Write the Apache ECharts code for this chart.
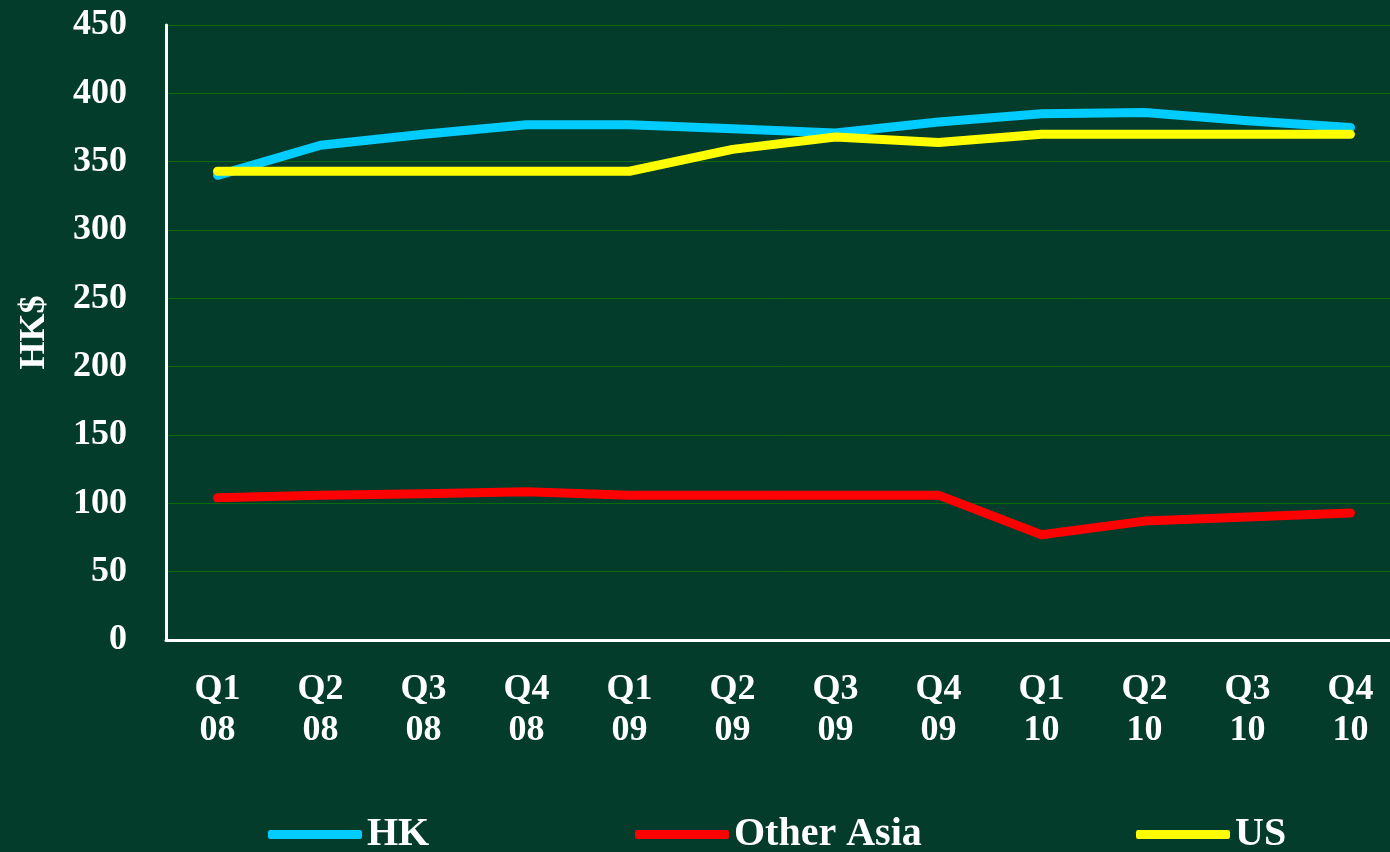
<!DOCTYPE html>
<html>
<head>
<meta charset="utf-8">
<style>
  html, body { margin: 0; padding: 0; background: #033c2a; }
  #chart { width: 1390px; height: 852px; }
</style>
<script src="https://cdn.jsdelivr.net/npm/echarts@6/dist/echarts.min.js"></script>
</head>
<body>
<div id="chart"></div>
<script>
// Quarterly values, 2008–2010, in HK$
const quarters = ['Q1', 'Q2', 'Q3', 'Q4', 'Q1', 'Q2', 'Q3', 'Q4', 'Q1', 'Q2', 'Q3', 'Q4'];
const years    = ['08', '08', '08', '08', '09', '09', '09', '09', '10', '10', '10', '10'];
const hk        = [340, 362, 370, 377, 377, 374, 371, 379, 385, 386, 380, 375];
const otherAsia = [104, 106, 107, 108.5, 106, 106, 106, 106, 77, 87, 90, 93];
const us        = [343, 343, 343, 343, 343, 359, 368, 364, 370, 370, 370, 370];
const yTicks = { min: 0, max: 450, interval: 50 };

const categories = quarters.map((q, i) => q + '\n' + years[i]);

const FONT = '"Liberation Serif", "Times New Roman", serif';
const WHITE = '#ffffff';

const seriesDefs = [
  { name: 'HK', data: hk, color: '#00ccff', legendLeft: 268 },
  { name: 'Other Asia', data: otherAsia, color: '#ff0000', legendLeft: 635 },
  { name: 'US', data: us, color: '#ffff00', legendLeft: 1136 }
];

const chart = echarts.init(document.getElementById('chart'), null, { renderer: 'canvas' });

chart.setOption({
  backgroundColor: '#033c2a',
  animation: false,
  // the last category band runs slightly past the right edge of the canvas
  grid: { left: 166, top: 25, width: 1236, height: 615, containLabel: false, outerBoundsMode: 'none' },
  legend: seriesDefs.map(s => ({
    data: [s.name],
    left: s.legendLeft,
    top: 811,
    icon: 'roundRect',
    itemWidth: 94,
    itemHeight: 9,
    itemGap: 0,
    textStyle: {
      color: WHITE, fontFamily: FONT, fontWeight: 'bold', fontSize: 40, lineHeight: 40,
      padding: [7, 0, 0, 0]
    },
    padding: 0,
    selectedMode: false
  })),
  xAxis: {
    type: 'category',
    data: categories,
    boundaryGap: true,
    axisLine: { show: true, lineStyle: { color: WHITE, width: 3 } },
    axisTick: { show: false },
    splitLine: { show: false },
    axisLabel: {
      color: WHITE, fontFamily: FONT, fontWeight: 'bold', fontSize: 36, lineHeight: 41,
      margin: 29, interval: 0
    }
  },
  yAxis: {
    type: 'value',
    min: yTicks.min, max: yTicks.max, interval: yTicks.interval,
    name: 'HK$',
    nameLocation: 'middle',
    nameGap: 113,
    nameRotate: 90,
    nameTextStyle: { color: WHITE, fontFamily: FONT, fontWeight: 'bold', fontSize: 36 },
    axisLine: { show: true, lineStyle: { color: WHITE, width: 3 } },
    axisTick: { show: false },
    axisLabel: { color: WHITE, fontFamily: FONT, fontWeight: 'bold', fontSize: 36, margin: 39 },
    splitLine: { show: true, lineStyle: { color: '#0b6b0b', width: 1 } }
  },
  series: seriesDefs.map(s => ({
    name: s.name,
    type: 'line',
    data: s.data,
    symbol: 'none',
    smooth: false,
    color: s.color,
    lineStyle: { color: s.color, width: 9, cap: 'round', join: 'round' },
    itemStyle: { color: s.color }
  }))
});
</script>
</body>
</html>
